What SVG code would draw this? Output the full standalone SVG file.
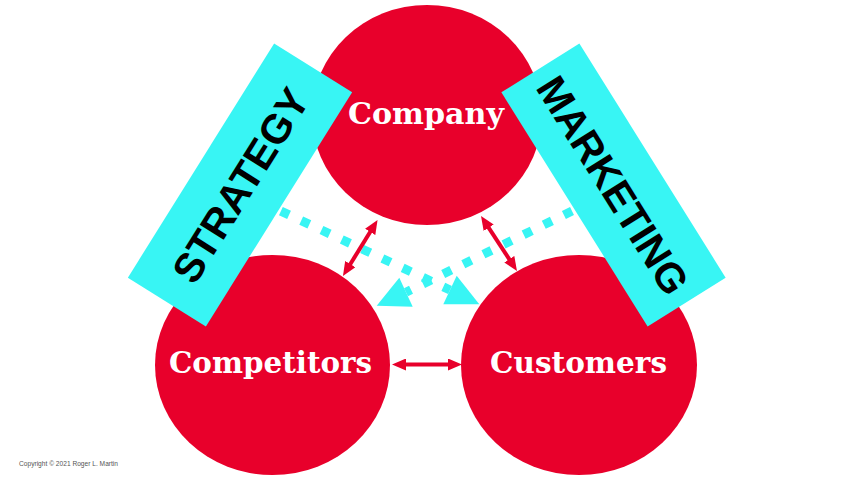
<svg xmlns="http://www.w3.org/2000/svg" width="853" height="480" viewBox="0 0 853 480">
  <style>
    .circ { fill: #E8002B; }
    .band { fill: #38F5F4; }
    .label { font-family: "DejaVu Serif", "Liberation Serif", serif; font-weight: bold; font-size: 30px; fill: #FFFFFF; text-anchor: middle; }
    .band-text { font-family: "Liberation Sans", Arial, sans-serif; font-weight: bold; font-size: 41px; fill: #000000; text-anchor: middle; }
    .red-arrow { stroke: #E8002B; stroke-width: 4; fill: none; marker-start: url(#redHead); marker-end: url(#redHead); }
    .dots { stroke: #38F5F4; stroke-width: 9; fill: none; stroke-dasharray: 9 13.4; }
    .cyan-head { fill: #38F5F4; }
    .copy { font-family: "Liberation Sans", Arial, sans-serif; font-size: 7px; fill: #555555; }
  </style>
  <defs>
    <marker id="redHead" markerUnits="userSpaceOnUse" markerWidth="14" markerHeight="12" refX="4" refY="6" orient="auto-start-reverse">
      <path d="M0,0 L14,6 L0,12 z" fill="#E8002B"/>
    </marker>
  </defs>

  <rect width="853" height="480" fill="#FFFFFF"/>

  <g id="company-shape"><ellipse class="circ" cx="427" cy="115" rx="115" ry="110"/></g>
  <g id="competitors-shape"><ellipse class="circ" cx="272.5" cy="365" rx="117.5" ry="110"/></g>
  <g id="customers-shape"><ellipse class="circ" cx="579" cy="365" rx="118" ry="110"/></g>

  <g id="connectors">
    <path class="dots" d="M280.9,211.1 L450,290"/>
    <polygon class="cyan-head" points="479.3,304.3 456.7,275.7 443.3,304.3"/>
    <path class="dots" d="M572,211 L406,292.2"/>
    <polygon class="cyan-head" points="376.7,305.7 399.3,277.7 412.7,306.7"/>
    <line class="red-arrow" x1="372.3" y1="228.5" x2="348.2" y2="267.5"/>
    <line class="red-arrow" x1="486.5" y1="224.4" x2="511.5" y2="262.6"/>
    <line class="red-arrow" x1="402" y1="364.5" x2="452" y2="364.5"/>
  </g>

  <g id="strategy" transform="translate(240,185) rotate(-58)">
    <rect class="band" x="-138" y="-46" width="276" height="92"/>
    <text class="band-text" x="0" y="15">STRATEGY</text>
  </g>
  <g id="marketing" transform="translate(613.5,185) rotate(58)">
    <rect class="band" x="-138" y="-46" width="276" height="92"/>
    <text class="band-text" x="0" y="15">MARKETING</text>
  </g>

  <g id="company"><text class="label" x="426" y="124" textLength="156" lengthAdjust="spacingAndGlyphs">Company</text></g>
  <g id="competitors"><text class="label" x="270.5" y="373" textLength="203" lengthAdjust="spacingAndGlyphs">Competitors</text></g>
  <g id="customers"><text class="label" x="578.5" y="373" textLength="177" lengthAdjust="spacingAndGlyphs">Customers</text></g>

  <text class="copy" x="19" y="466" textLength="99" lengthAdjust="spacingAndGlyphs">Copyright © 2021 Roger L. Martin</text>
</svg>
